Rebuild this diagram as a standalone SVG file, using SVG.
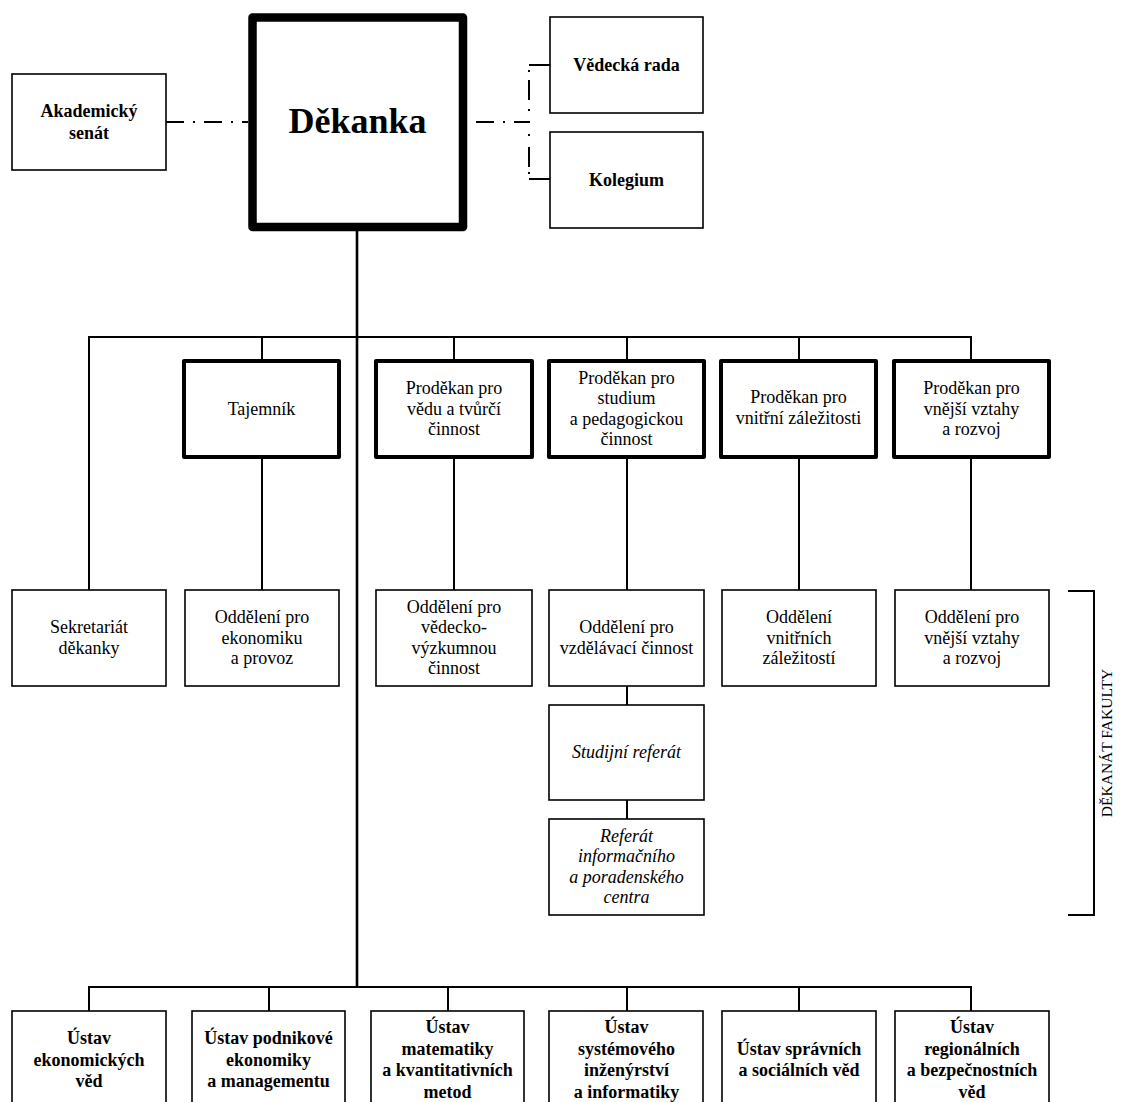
<svg xmlns="http://www.w3.org/2000/svg" width="1121" height="1102" viewBox="0 0 1121 1102" font-family="'Liberation Serif', 'DejaVu Serif', 'Times New Roman', serif">
<style>
  text { font-family: 'Liberation Serif', 'DejaVu Serif', 'Times New Roman', serif; fill: #000; text-anchor: middle; }
  .r { font-size: 18px; }
  .b { font-size: 18px; font-weight: bold; }
  .i { font-size: 18px; font-style: italic; }
  .box { fill: #fff; stroke: #000; stroke-width: 1.6; }
  .tbox { fill: #fff; stroke: #000; stroke-width: 4; stroke-linejoin: round; }
  .dbox { fill: #fff; stroke: #000; stroke-width: 8.5; stroke-linejoin: round; }
  .ln { fill: none; stroke: #000; stroke-width: 2; }
  .main { fill: none; stroke: #000; stroke-width: 2.6; }
  .dd { fill: none; stroke: #000; stroke-width: 2; stroke-dasharray: 18 9 2 9; }
</style>
<rect width="1121" height="1102" fill="#fff"/>
<g id="connectors">
  <path class="dd" d="M166,122 H248"/>
  <path class="dd" d="M476,122 H530"/>
  <path class="ln" d="M529,70 v2 M529,80 v20 M529,109 v2 M529,134 v2 M529,147 v20 M529,172 v2"/>
  <path class="ln" d="M529,65 H550 M529,179 H550"/>
  <path class="main" d="M357,231 V988"/>
  <path class="ln" d="M89,590 V337 H971 V361 M262,337 V361 M454,337 V361 M627,337 V361 M799,337 V361"/>
  <path class="ln" d="M262,457 V590 M454,457 V590 M627,457 V590 M799,457 V590 M971,457 V590"/>
  <path class="ln" d="M627,686 V705 M627,800 V819"/>
  <path class="ln" d="M89,1011 V987 H971 V1011 M269,987 V1011 M448,987 V1011 M627,987 V1011 M799,987 V1011"/>
  <path class="ln" d="M1068,591 H1094 V915 H1068"/>
</g>
<g id="akademicky-senat"><rect class="box" x="12" y="74" width="154" height="96"/>
  <text class="b"><tspan x="89" y="117">Akademický</tspan><tspan x="89" y="138.5">senát</tspan></text></g>
<g id="dekanka"><rect class="dbox" x="252.5" y="17.5" width="210.5" height="209.5"/>
  <text x="357.5" y="133" style="font-size:36px;font-weight:bold">Děkanka</text></g>
<g id="vedecka-rada"><rect class="box" x="550" y="17" width="153" height="96"/>
  <text class="b" x="626.5" y="71">Vědecká rada</text></g>
<g id="kolegium"><rect class="box" x="550" y="132" width="153" height="96"/>
  <text class="b" x="626.5" y="186">Kolegium</text></g>

<g id="tajemnik"><rect class="tbox" x="184" y="361" width="155" height="96"/>
  <text class="r" x="261.5" y="414.5">Tajemník</text></g>
<g id="prodekan-veda"><rect class="tbox" x="376" y="361" width="156" height="96"/>
  <text class="r"><tspan x="454" y="394">Proděkan pro</tspan><tspan x="454" y="414.5">vědu a tvůrčí</tspan><tspan x="454" y="435">činnost</tspan></text></g>
<g id="prodekan-studium"><rect class="tbox" x="549" y="361" width="155" height="96"/>
  <text class="r"><tspan x="626.5" y="383.7">Proděkan pro</tspan><tspan x="626.5" y="404.2">studium</tspan><tspan x="626.5" y="424.7">a pedagogickou</tspan><tspan x="626.5" y="445.2">činnost</tspan></text></g>
<g id="prodekan-vnitrni"><rect class="tbox" x="721" y="361" width="155" height="96"/>
  <text class="r"><tspan x="798.5" y="403">Proděkan pro</tspan><tspan x="798.5" y="423.5">vnitřní záležitosti</tspan></text></g>
<g id="prodekan-vnejsi"><rect class="tbox" x="894" y="361" width="155" height="96"/>
  <text class="r"><tspan x="971.5" y="394">Proděkan pro</tspan><tspan x="971.5" y="414.5">vnější vztahy</tspan><tspan x="971.5" y="435">a rozvoj</tspan></text></g>

<g id="sekretariat"><rect class="box" x="12" y="590" width="154" height="96"/>
  <text class="r"><tspan x="89" y="633.2">Sekretariát</tspan><tspan x="89" y="653.7">děkanky</tspan></text></g>
<g id="oddeleni-ekonomika"><rect class="box" x="185" y="590" width="154" height="96"/>
  <text class="r"><tspan x="262" y="623">Oddělení pro</tspan><tspan x="262" y="643.5">ekonomiku</tspan><tspan x="262" y="664">a provoz</tspan></text></g>
<g id="oddeleni-veda"><rect class="box" x="376" y="590" width="156" height="96"/>
  <text class="r"><tspan x="454" y="612.7">Oddělení pro</tspan><tspan x="454" y="633.2">vědecko-</tspan><tspan x="454" y="653.7">výzkumnou</tspan><tspan x="454" y="674.2">činnost</tspan></text></g>
<g id="oddeleni-vzdelavaci"><rect class="box" x="549" y="590" width="155" height="96"/>
  <text class="r"><tspan x="626.5" y="633.2">Oddělení pro</tspan><tspan x="626.5" y="653.7">vzdělávací činnost</tspan></text></g>
<g id="oddeleni-vnitrni"><rect class="box" x="722" y="590" width="154" height="96"/>
  <text class="r"><tspan x="799" y="623">Oddělení</tspan><tspan x="799" y="643.5">vnitřních</tspan><tspan x="799" y="664">záležitostí</tspan></text></g>
<g id="oddeleni-vnejsi"><rect class="box" x="895" y="590" width="154" height="96"/>
  <text class="r"><tspan x="972" y="623">Oddělení pro</tspan><tspan x="972" y="643.5">vnější vztahy</tspan><tspan x="972" y="664">a rozvoj</tspan></text></g>
<g id="studijni-referat"><rect class="box" x="549" y="705" width="155" height="95"/>
  <text class="i" x="626.5" y="758">Studijní referát</text></g>
<g id="referat-ipc"><rect class="box" x="549" y="819" width="155" height="96"/>
  <text class="i"><tspan x="626.5" y="841.7">Referát</tspan><tspan x="626.5" y="862.2">informačního</tspan><tspan x="626.5" y="882.7">a poradenského</tspan><tspan x="626.5" y="903.2">centra</tspan></text></g>

<g id="dekanat-label"><text class="r" style="font-size:15.5px" transform="translate(1112,743) rotate(-90)" x="0" y="0">DĚKANÁT FAKULTY</text></g>

<g id="ustav-ekonomickych"><rect class="box" x="12" y="1011" width="154" height="100"/>
  <text class="b"><tspan x="89" y="1044">Ústav</tspan><tspan x="89" y="1065.5">ekonomických</tspan><tspan x="89" y="1087">věd</tspan></text></g>
<g id="ustav-podnikove"><rect class="box" x="192" y="1011" width="153" height="100"/>
  <text class="b"><tspan x="268.5" y="1044">Ústav podnikové</tspan><tspan x="268.5" y="1065.5">ekonomiky</tspan><tspan x="268.5" y="1087">a managementu</tspan></text></g>
<g id="ustav-matematiky"><rect class="box" x="371" y="1011" width="153" height="100"/>
  <text class="b"><tspan x="447.5" y="1033.2">Ústav</tspan><tspan x="447.5" y="1054.7">matematiky</tspan><tspan x="447.5" y="1076.2">a kvantitativních</tspan><tspan x="447.5" y="1097.7">metod</tspan></text></g>
<g id="ustav-systemoveho"><rect class="box" x="549" y="1011" width="154" height="100"/>
  <text class="b"><tspan x="626.5" y="1033.2">Ústav</tspan><tspan x="626.5" y="1054.7">systémového</tspan><tspan x="626.5" y="1076.2">inženýrství</tspan><tspan x="626.5" y="1097.7">a informatiky</tspan></text></g>
<g id="ustav-spravnich"><rect class="box" x="722" y="1011" width="154" height="100"/>
  <text class="b"><tspan x="799" y="1054.7">Ústav správních</tspan><tspan x="799" y="1076.2">a sociálních věd</tspan></text></g>
<g id="ustav-regionalnich"><rect class="box" x="895" y="1011" width="154" height="100"/>
  <text class="b"><tspan x="972" y="1033.2">Ústav</tspan><tspan x="972" y="1054.7">regionálních</tspan><tspan x="972" y="1076.2">a bezpečnostních</tspan><tspan x="972" y="1097.7">věd</tspan></text></g>
</svg>
